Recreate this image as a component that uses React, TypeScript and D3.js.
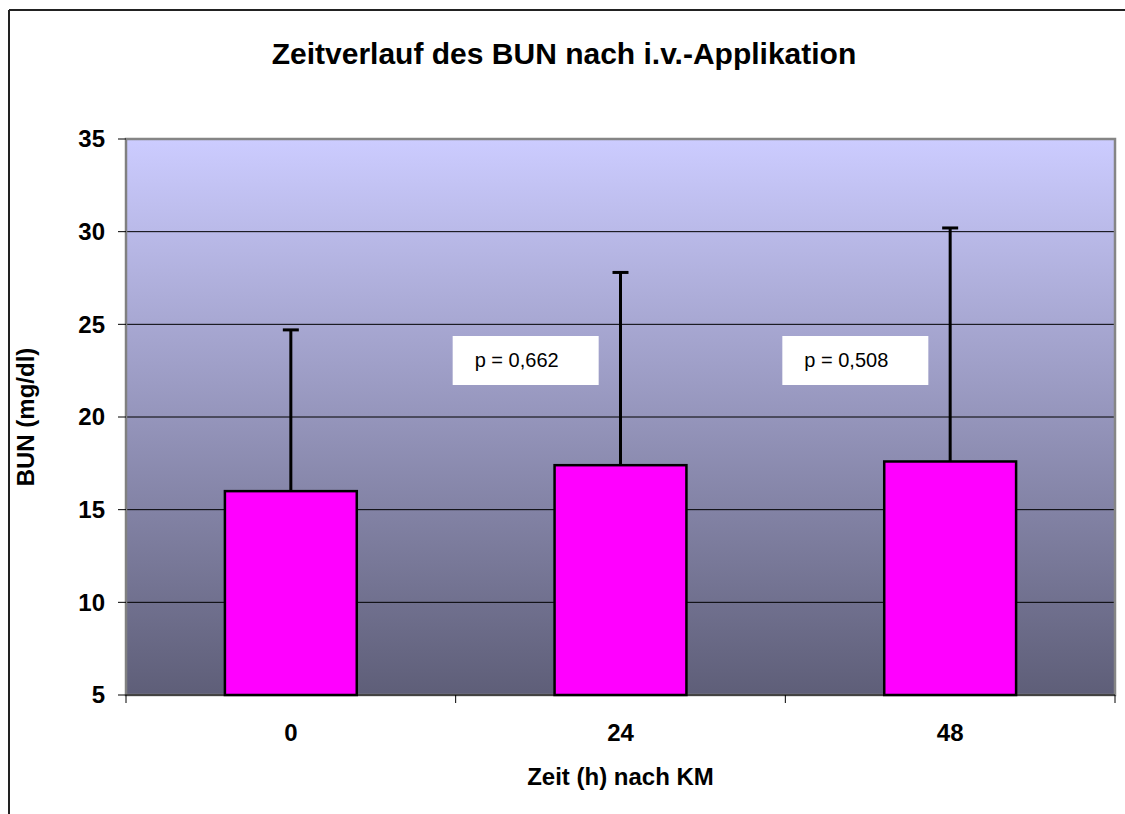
import React from "react";
import * as d3 from "d3";

const categories = ["0", "24", "48"];
const means = [16.0, 17.4, 17.6];
const errUpper = [24.7, 27.8, 30.2];
const yTicks = [5, 10, 15, 20, 25, 30, 35];
const pLabels = ["p = 0,662", "p = 0,508"];

const W = 1125;
const H = 814;
const plot = { left: 126, top: 139, right: 1115, bottom: 695 };
const font = "'Liberation Sans', Arial, sans-serif";

export default function App() {
  const x = d3
    .scaleBand<string>()
    .domain(categories)
    .range([plot.left, plot.right])
    .paddingInner(0.6)
    .paddingOuter(0.3);
  const xOuter = d3.scaleBand<string>().domain(categories).range([plot.left, plot.right]);
  const y = d3.scaleLinear().domain([5, 35]).range([plot.bottom, plot.top]);
  const bw = x.bandwidth();
  const step = xOuter.step();

  return (
    <svg
      width={W}
      height={H}
      style={{ position: "absolute", left: 0, top: 0, background: "#fff" }}
    >
      <defs>
        <linearGradient id="bg" x1="0" y1="0" x2="0" y2="1">
          <stop offset="0%" stopColor="#ccccff" />
          <stop offset="100%" stopColor="#5e5e78" />
        </linearGradient>
      </defs>
      {/* outer frame */}
      <line x1={9} y1={10} x2={W} y2={10} stroke="#222" strokeWidth={2} />
      <line x1={9} y1={10} x2={9} y2={H} stroke="#222" strokeWidth={2} />

      <text
        x={564}
        y={64}
        textAnchor="middle"
        fontFamily={font}
        fontWeight="bold"
        fontSize={30}
      >
        Zeitverlauf des BUN nach i.v.-Applikation
      </text>

      {/* plot area */}
      <rect
        x={plot.left}
        y={plot.top}
        width={plot.right - plot.left}
        height={plot.bottom - plot.top}
        fill="url(#bg)"
      />
      {yTicks.slice(1, -1).map((t) => (
        <line
          key={t}
          x1={plot.left}
          x2={plot.right}
          y1={y(t)}
          y2={y(t)}
          stroke="#000"
          strokeWidth={1}
        />
      ))}
      <rect
        x={plot.left}
        y={plot.top}
        width={plot.right - plot.left}
        height={plot.bottom - plot.top}
        fill="none"
        stroke="#858585"
        strokeWidth={2.5}
      />

      {/* y axis ticks & labels */}
      <line x1={plot.left} x2={plot.left} y1={plot.top} y2={plot.bottom} stroke="#808080" strokeWidth={2} />
      {yTicks.map((t) => (
        <g key={t}>
          <line x1={plot.left - 8} x2={plot.left} y1={y(t)} y2={y(t)} stroke="#000" strokeWidth={1} />
          <text
            x={105}
            y={y(t)}
            dy="0.35em"
            textAnchor="end"
            fontFamily={font}
            fontWeight="bold"
            fontSize={24}
          >
            {t}
          </text>
        </g>
      ))}

      {/* x axis */}
      <line x1={plot.left} x2={plot.right} y1={plot.bottom} y2={plot.bottom} stroke="#000" strokeWidth={1} />
      {[0, 1, 2, 3].map((i) => (
        <line
          key={i}
          x1={plot.left + i * step}
          x2={plot.left + i * step}
          y1={plot.bottom}
          y2={plot.bottom + 8}
          stroke="#000"
          strokeWidth={1}
        />
      ))}
      {categories.map((c) => (
        <text
          key={c}
          x={(xOuter(c) as number) + step / 2}
          y={741}
          textAnchor="middle"
          fontFamily={font}
          fontWeight="bold"
          fontSize={24}
        >
          {c}
        </text>
      ))}

      {/* bars */}
      {categories.map((c, i) => {
        const bx = x(c) as number;
        const cx = bx + bw / 2;
        return (
          <g key={c}>
            <line x1={cx} x2={cx} y1={y(means[i])} y2={y(errUpper[i])} stroke="#000" strokeWidth={3} />
            <line x1={cx - 8} x2={cx + 8} y1={y(errUpper[i])} y2={y(errUpper[i])} stroke="#000" strokeWidth={3} />
            <rect
              x={bx}
              y={y(means[i])}
              width={bw}
              height={y(5) - y(means[i])}
              fill="#ff00ff"
              stroke="#000"
              strokeWidth={2.5}
            />
          </g>
        );
      })}

      {/* p-value boxes */}
      {pLabels.map((p, i) => {
        const bx = (xOuter(categories[i + 1]) as number) - 3;
        return (
          <g key={p}>
            <rect x={bx} y={336} width={146} height={49} fill="#fff" />
            <text x={bx + 22} y={367} fontFamily={font} fontSize={20}>
              {p}
            </text>
          </g>
        );
      })}

      {/* axis titles */}
      <text
        x={(plot.left + plot.right) / 2}
        y={785}
        textAnchor="middle"
        fontFamily={font}
        fontWeight="bold"
        fontSize={24}
      >
        Zeit (h) nach KM
      </text>
      <text
        transform={`translate(34, ${(plot.top + plot.bottom) / 2}) rotate(-90)`}
        textAnchor="middle"
        fontFamily={font}
        fontWeight="bold"
        fontSize={24}
      >
        BUN (mg/dl)
      </text>
    </svg>
  );
}
